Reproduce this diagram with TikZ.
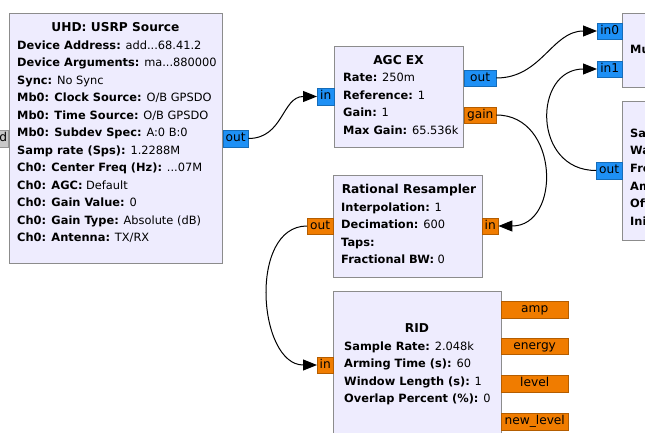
\documentclass[tikz,border=0pt]{standalone}
\usepackage{fontspec}
\setmainfont{DejaVu Sans}
\usetikzlibrary{arrows.meta}
\definecolor{blockfill}{RGB}{238,236,254}
\definecolor{blockline}{RGB}{140,140,140}
\definecolor{cplx}{RGB}{30,144,245}
\definecolor{flt}{RGB}{240,124,0}
\definecolor{msg}{RGB}{200,200,200}
\tikzset{
  block/.style={draw=blockline, fill=blockfill, line width=0.9pt, anchor=north west, inner sep=0pt},
  blocktitle/.style={font=\bfseries\fontsize{12.2}{17.5}\selectfont, inner sep=0pt, anchor=base},
  % anchor on the baseline of the last line
  params/.style={font=\fontsize{11.4}{17.5}\selectfont, align=left, anchor=base west, inner sep=0pt},
  port/.style={draw=#1!75!black, fill=#1, line width=0.4pt, anchor=west, minimum height=16.5pt,
    inner sep=0pt, text height=9pt, text depth=2.7pt, font=\fontsize{12.2}{14}\selectfont},
  link/.style={-{Triangle[length=14pt,width=11pt]}, line width=1pt},
}
\begin{document}
\begin{tikzpicture}[x=1pt,y=-1pt]
  \useasboundingbox (0,0) rectangle (645,433);
  \clip (0,0) rectangle (645,433);
  % blocks
  \node[block, minimum width=213pt, minimum height=250pt] (usrp) at (9,13) {};
  \node[block, minimum width=129pt, minimum height=101pt] (agc) at (334,46) {};
  \node[block, minimum width=149pt, minimum height=102pt] (resamp) at (333,175) {};
  \node[block, minimum width=168pt, minimum height=160pt] (rid) at (333,291) {};
  \node[block, minimum width=40pt, minimum height=74pt] (mult) at (622,13) {};
  \node[block, minimum width=40pt, minimum height=139pt] (sigsrc) at (622,101) {};
  % texts
  \node[blocktitle] (usrptitle) at (115.5,31.5) {UHD: USRP Source};
  \node[params] (usrpparams) at (17,241.5) {\textbf{Device Address:} add...68.41.2\\
    \textbf{Device Arguments:} ma...880000\\
    \textbf{Sync:} No Sync\\
    \textbf{Mb0: Clock Source:} O/B GPSDO\\
    \textbf{Mb0: Time Source:} O/B GPSDO\\
    \textbf{Mb0: Subdev Spec:} A:0 B:0\\
    \textbf{Samp rate (Sps):} 1.2288M\\
    \textbf{Ch0: Center Freq (Hz):} ...07M\\
    \textbf{Ch0: AGC:} Default\\
    \textbf{Ch0: Gain Value:} 0\\
    \textbf{Ch0: Gain Type:} Absolute (dB)\\
    \textbf{Ch0: Antenna:} TX/RX};
  \node[blocktitle] (agctitle) at (398.5,64.5) {AGC EX};
  \node[params] (agcparams) at (343,134.5) {\textbf{Rate:} 250m\\
    \textbf{Reference:} 1\\
    \textbf{Gain:} 1\\
    \textbf{Max Gain:} 65.536k};
  \node[blocktitle] (resamptitle) at (409,193.5) {Rational Resampler};
  \node[params] (resampparams) at (341,263.5) {\textbf{Interpolation:} 1\\
    \textbf{Decimation:} 600\\
    \textbf{Taps:}\\
    \textbf{Fractional BW:} 0};
  \node[blocktitle] (ridtitle) at (417,332.5) {RID};
  \node[params] (ridparams) at (344,402.5) {\textbf{Sample Rate:} 2.048k\\
    \textbf{Arming Time (s):} 60\\
    \textbf{Window Length (s):} 1\\
    \textbf{Overlap Percent (\%):} 0};
  \node[params, font=\bfseries\fontsize{11.4}{17.5}\selectfont] (multtitle) at (630,54) {Mu};
  \node[params, font=\bfseries\fontsize{11.4}{17.7}\selectfont] (sigparams) at (630,225.5) {Sa\\Wa\\Fre\\Am\\Off\\Ini};
  % ports
  \node[port=msg, anchor=east, minimum width=9pt] (usrpcmd) at (8,138.5) {d};
  \node[port=cplx, minimum width=25pt] (usrpout) at (223,138.5) {out};
  \node[port=cplx, minimum width=17pt] (agcin) at (317,96.5) {in};
  \node[port=cplx, minimum width=32pt] (agcout) at (464,78) {out};
  \node[port=flt, minimum width=32pt] (agcgain) at (464,115) {gain};
  \node[port=flt, minimum width=26pt] (resampout) at (307,226) {out};
  \node[port=flt, minimum width=16pt] (resampin) at (482,226) {in};
  \node[port=flt, minimum width=16pt] (ridin) at (317,365) {in};
  \node[port=flt, minimum width=67pt] (ridamp) at (501,309.5) {amp};
  \node[port=flt, minimum width=67pt] (ridenergy) at (501,346) {energy};
  \node[port=flt, minimum width=67pt] (ridlevel) at (501,383.5) {level};
  \node[port=flt, minimum width=67pt] (ridnewlevel) at (501,421.5) {new\_level};
  \node[port=cplx, minimum width=25pt] (multin0) at (597,31) {in0};
  \node[port=cplx, minimum width=25pt] (multin1) at (597,69) {in1};
  \node[port=cplx, minimum width=26pt] (sigout) at (596,170.5) {out};
  % connections
  \begin{scope}[link]
    \draw (usrpout.east) .. controls +(35,0) and +(-35,0) .. (agcin.west);
    \draw (agcout.east) .. controls +(45,0) and +(-45,0) .. (multin0.west);
    \draw (agcgain.east) .. controls +(63,0) and +(63,0) .. (resampin.east);
    \draw (sigout.west) .. controls +(-64,0) and +(-64,0) .. (multin1.west);
    \draw (resampout.west) .. controls +(-59,0) and +(-59,0) .. (ridin.west);
  \end{scope}
\end{tikzpicture}
\end{document}
